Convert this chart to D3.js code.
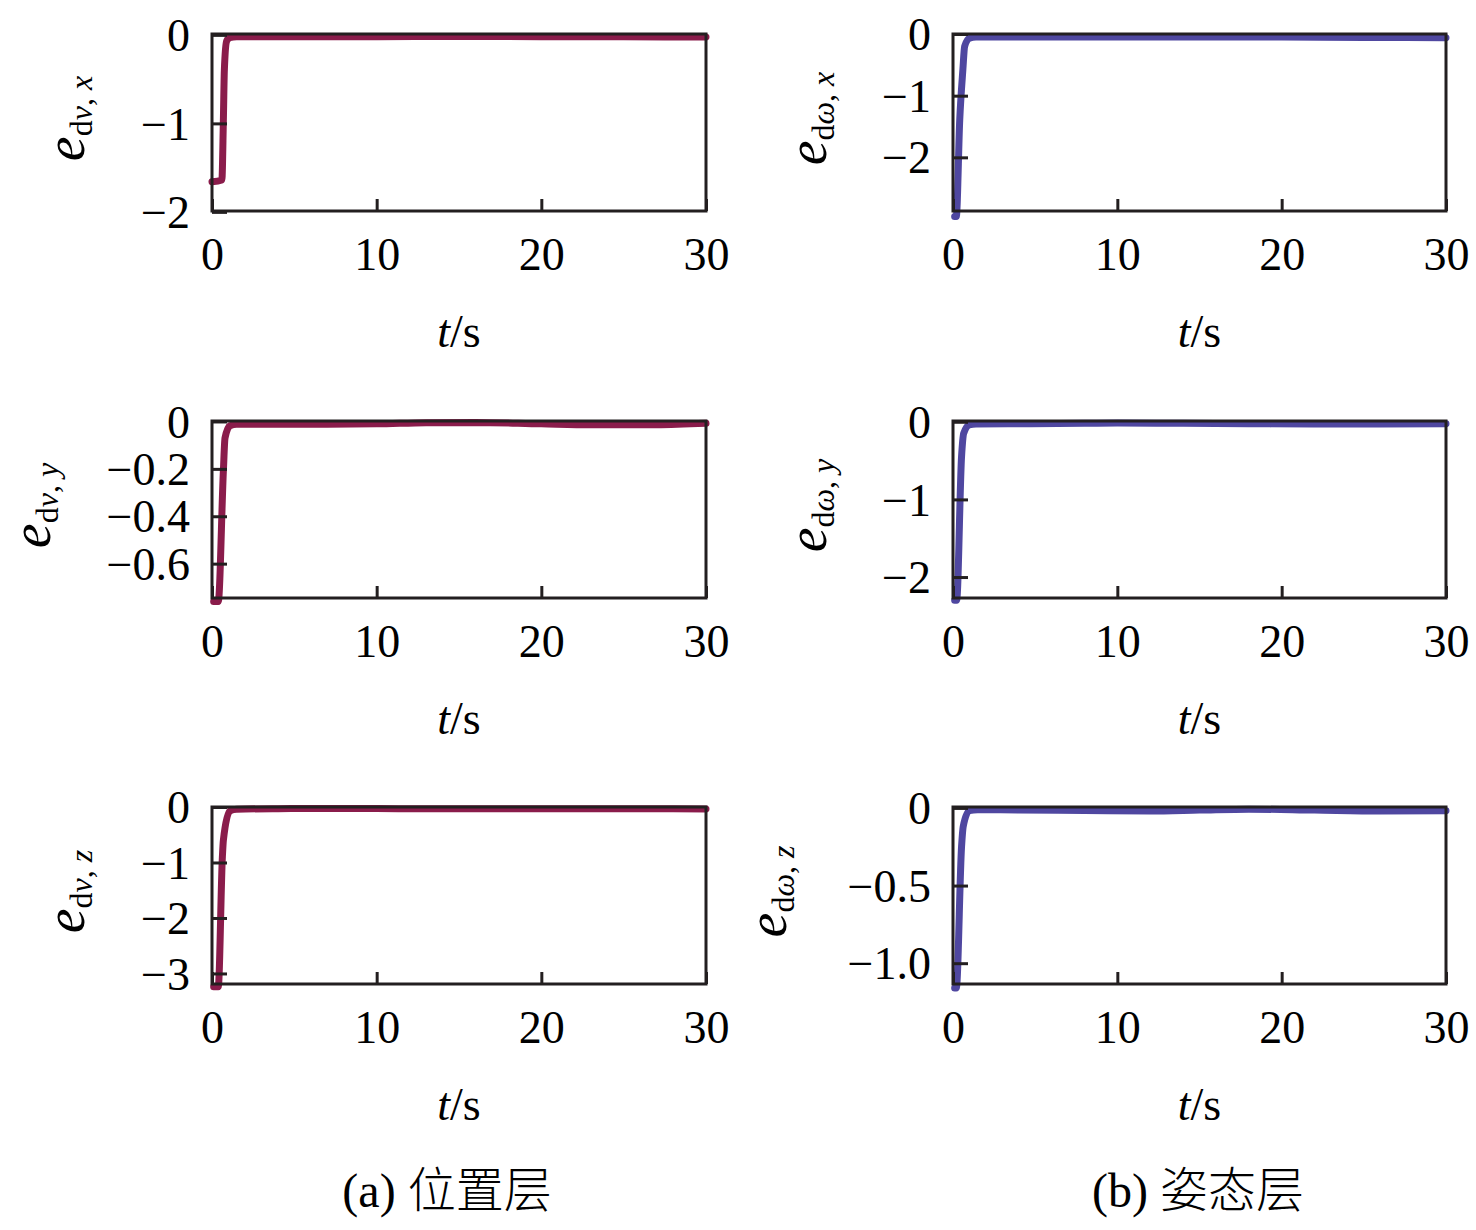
<!DOCTYPE html>
<html><head><meta charset="utf-8">
<script src="https://cdn.jsdelivr.net/npm/d3@7"></script>
<style>
body{margin:0;background:#fff;}
svg{display:block;}
</style></head>
<body>
<svg id="chart" width="1476" height="1230"></svg>
<script>
// ---- data ----
const xTicks = [0, 10, 20, 30];
const xTickLabels = ["0", "10", "20", "30"];

const tAx = [0, 0.6, 0.69, 0.75, 0.89, 1.09, 1.5, 3, 6, 10, 15, 20, 25, 30];
const vAx = [-1.66, -1.64, -0.97, -0.40, -0.07, -0.03, -0.022, -0.022, -0.022, -0.02, -0.018, -0.02, -0.022, -0.025];

const tAy = [0.1, 0.38, 0.69, 0.79, 1.09, 1.5, 3, 6, 10, 13, 16, 20, 23, 27, 30];
const vAy = [-0.76, -0.76, -0.21, -0.07, -0.018, -0.012, -0.012, -0.012, -0.01, -0.005, -0.004, -0.01, -0.014, -0.014, -0.008];

const tAz = [0.1, 0.38, 0.63, 0.69, 1.09, 1.5, 4, 8, 12, 16, 20, 25, 30];
const vAz = [-3.24, -3.24, -0.9, -0.6, -0.07, -0.04, -0.03, -0.025, -0.03, -0.03, -0.03, -0.03, -0.035];

const tBx = [0.1, 0.2, 0.41, 0.6, 0.71, 1.0, 1.4, 4, 8, 12, 16, 20, 25, 30];
const vBx = [-2.96, -2.96, -1.39, -0.58, -0.2, -0.07, -0.05, -0.05, -0.05, -0.05, -0.048, -0.05, -0.055, -0.06];

const tBy = [0.1, 0.22, 0.52, 0.65, 1.0, 1.4, 4, 8, 10, 14, 18, 22, 26, 30];
const vBy = [-2.3, -2.3, -0.45, -0.15, -0.04, -0.03, -0.025, -0.02, -0.015, -0.02, -0.025, -0.03, -0.03, -0.025];

const tBz = [0.1, 0.2, 0.52, 0.62, 1.0, 1.5, 4, 8, 12, 15, 18, 22, 26, 30];
const vBz = [-1.16, -1.16, -0.25, -0.12, -0.017, -0.012, -0.013, -0.016, -0.02, -0.014, -0.008, -0.014, -0.02, -0.018];

const yTicksAx = [0, -1, -2];      const yLabelsAx = ["0", "\u22121", "\u22122"];
const yTicksAy = [0, -0.2, -0.4, -0.6]; const yLabelsAy = ["0", "\u22120.2", "\u22120.4", "\u22120.6"];
const yTicksAz = [0, -1, -2, -3];  const yLabelsAz = ["0", "\u22121", "\u22122", "\u22123"];
const yTicksBx = [0, -1, -2];      const yLabelsBx = ["0", "\u22121", "\u22122"];
const yTicksBy = [0, -1, -2];      const yLabelsBy = ["0", "\u22121", "\u22122"];
const yTicksBz = [0, -0.5, -1.0];  const yLabelsBz = ["0", "\u22120.5", "\u22121.0"];

const yDomAx = [-1.99, 0.01];
const yDomAy = [-0.745, 0.002];
const yDomAz = [-3.19, 0.0];
const yDomBx = [-2.87, 0.0];
const yDomBy = [-2.27, 0.01];
const yDomBz = [-1.134, 0.006];

const subA = [["d", false], ["v", true]];
const subB = [["d", false], ["\u03c9", true]];
const compX = "x", compY = "y", compZ = "z";

const captionA = ["(a) ", "位置层"];
const captionB = ["(b) ", "姿态层"];
const xLabel = ["t", "/s"];

// ---- layout ----
const colorA = "#8a1c4b";
const colorB = "#4f47a0";
const axisColor = "#231f20";
const serif = "'Liberation Serif','Times New Roman',serif";
const cols = [{left: 212, right: 706}, {left: 953, right: 1446}];
const rows = [{top: 34, bottom: 211}, {top: 421, bottom: 598}, {top: 807, bottom: 984}];

const panels = [
  {c:0, r:0, t:tAx, v:vAx, dom:yDomAx, ticks:yTicksAx, labels:yLabelsAx, sub:subA, comp:compX, color:colorA, labX:84},
  {c:0, r:1, t:tAy, v:vAy, dom:yDomAy, ticks:yTicksAy, labels:yLabelsAy, sub:subA, comp:compY, color:colorA, labX:50},
  {c:0, r:2, t:tAz, v:vAz, dom:yDomAz, ticks:yTicksAz, labels:yLabelsAz, sub:subA, comp:compZ, color:colorA, labX:84},
  {c:1, r:0, t:tBx, v:vBx, dom:yDomBx, ticks:yTicksBx, labels:yLabelsBx, sub:subB, comp:compX, color:colorB, labX:826},
  {c:1, r:1, t:tBy, v:vBy, dom:yDomBy, ticks:yTicksBy, labels:yLabelsBy, sub:subB, comp:compY, color:colorB, labX:826},
  {c:1, r:2, t:tBz, v:vBz, dom:yDomBz, ticks:yTicksBz, labels:yLabelsBz, sub:subB, comp:compZ, color:colorB, labX:786},
];

const svg = d3.select("#chart");

panels.forEach(p => {
  const L = cols[p.c].left, R = cols[p.c].right, T = rows[p.r].top, B = rows[p.r].bottom;
  const x = d3.scaleLinear().domain([0, 30]).range([L, R]);
  const y = d3.scaleLinear().domain(p.dom).range([B, T]);
  const g = svg.append("g");

  // data line
  const pts = p.t.map((t, i) => [t, p.v[i]]);
  g.append("path")
    .datum(pts)
    .attr("fill", "none")
    .attr("stroke", p.color)
    .attr("stroke-width", 7)
    .attr("stroke-linejoin", "round")
    .attr("stroke-linecap", "round")
    .attr("d", d3.line().curve(d3.curveMonotoneX).x(d => x(d[0])).y(d => y(d[1])));

  // frame
  g.append("rect")
    .attr("x", L).attr("y", T).attr("width", R - L).attr("height", B - T)
    .attr("fill", "none").attr("stroke", axisColor).attr("stroke-width", 3);

  // x axis
  const xa = g.append("g").attr("transform", `translate(0,${B})`)
    .call(d3.axisBottom(x).tickValues(xTicks).tickFormat((d, i) => xTickLabels[i]).tickSizeInner(-12).tickSizeOuter(0).tickPadding(26));
  xa.select(".domain").remove();
  xa.selectAll("line").attr("stroke", axisColor).attr("stroke-width", 3);
  xa.selectAll("text").attr("font-family", serif).attr("font-size", 46).attr("fill", "#000").attr("dy", "0.71em");

  // y axis
  const ya = g.append("g").attr("transform", `translate(${L},0)`)
    .call(d3.axisLeft(y).tickValues(p.ticks).tickFormat((d, i) => p.labels[i]).tickSizeInner(-15).tickSizeOuter(0).tickPadding(22));
  ya.select(".domain").remove();
  ya.selectAll("line").attr("stroke", axisColor).attr("stroke-width", 3);
  ya.selectAll("text").attr("font-family", serif).attr("font-size", 46).attr("fill", "#000").attr("dy", "0.34em");

  // x label
  const xl = g.append("text")
    .attr("x", (L + R) / 2).attr("y", B + 136)
    .attr("text-anchor", "middle")
    .attr("font-family", serif).attr("font-size", 46).attr("fill", "#000");
  xl.append("tspan").attr("font-style", "italic").text(xLabel[0]);
  xl.append("tspan").text(xLabel[1]);

  // y label
  const yl = g.append("text")
    .attr("transform", `translate(${p.labX},${(T + B) / 2 - 4}) rotate(-90)`)
    .attr("text-anchor", "middle")
    .attr("font-family", serif).attr("fill", "#000");
  yl.append("tspan").attr("font-style", "italic").attr("font-size", 56).text("e");
  yl.append("tspan").attr("font-style", p.sub[0][1] ? "italic" : "normal").attr("font-size", 32).attr("dy", 8).text(p.sub[0][0]);
  yl.append("tspan").attr("font-style", p.sub[1][1] ? "italic" : "normal").attr("font-size", 32).text(p.sub[1][0]);
  yl.append("tspan").attr("font-size", 32).text(", ");
  yl.append("tspan").attr("font-style", "italic").attr("font-size", 32).text(p.comp);
});

// captions
[[captionA, 447], [captionB, 1198]].forEach(([cap, cx]) => {
  const t = svg.append("text").attr("x", cx).attr("y", 1207).attr("text-anchor", "middle")
    .attr("font-size", 48).attr("fill", "#000");
  t.append("tspan").attr("font-family", serif).text(cap[0]);
  t.append("tspan").attr("font-family", "'Noto Sans CJK SC',sans-serif").attr("font-weight", 300).text(cap[1]);
});
</script>
</body></html>
